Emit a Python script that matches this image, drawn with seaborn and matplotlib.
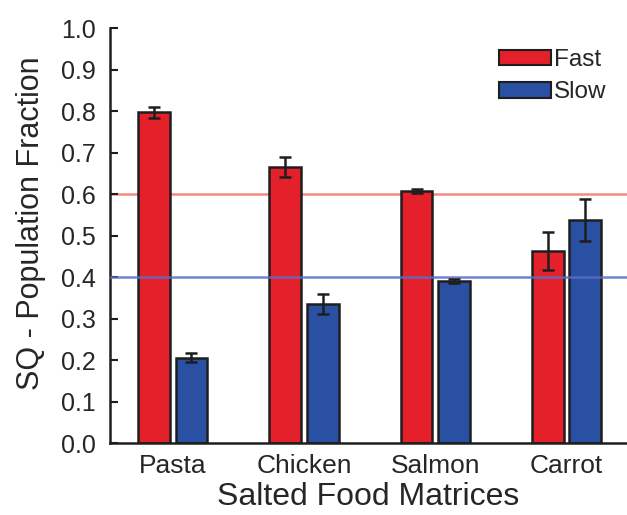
import matplotlib
matplotlib.use("Agg")
import matplotlib.pyplot as plt
import seaborn as sns
import pandas as pd
import numpy as np
from matplotlib.patches import Patch

# ---- data ----
categories = ["Pasta", "Chicken", "Salmon", "Carrot"]
series = ["Fast", "Slow"]
fast_values = [0.797, 0.665, 0.608, 0.463]
fast_errors = [0.013, 0.024, 0.005, 0.046]
slow_values = [0.205, 0.335, 0.390, 0.537]
slow_errors = [0.011, 0.023, 0.004, 0.051]
reference_fast = 0.6
reference_slow = 0.4
y_ticks = [0.0, 0.1, 0.2, 0.3, 0.4, 0.5, 0.6, 0.7, 0.8, 0.9, 1.0]

df = pd.DataFrame({
    "Food": categories * 2,
    "Rate": ["Fast"] * 4 + ["Slow"] * 4,
    "Fraction": fast_values + slow_values,
    "Err": fast_errors + slow_errors,
})

sns.set_style("white")
plt.rcParams["font.family"] = ["Liberation Sans", "DejaVu Sans"]

red = "#E4202A"
blue = "#2A50A3"
edge = "#1E1E1E"
text_c = "#262626"

fig = plt.figure(figsize=(6.27, 5.15), dpi=100)
ax = fig.add_axes([0.1754, 0.1398, 0.8246, 0.8058])

ax.axhline(reference_fast, color="#F08C84", lw=1.8, zorder=0)

sns.barplot(data=df, x="Food", y="Fraction", hue="Rate", order=categories,
            hue_order=series, palette=[red, blue], edgecolor=edge,
            linewidth=1.8, width=0.57, gap=0.15, errorbar=None,
            legend=False, saturation=1, ax=ax, zorder=2)

ax.axhline(reference_slow, color="#5A6CC4", lw=1.8, zorder=3, alpha=0.85)

for cont, lvl in zip(ax.containers, series):
    sub = df[df["Rate"] == lvl].set_index("Food").loc[categories]
    xs = [p.get_x() + p.get_width() / 2 for p in cont.patches]
    ax.errorbar(xs, sub["Fraction"].values, yerr=sub["Err"].values, fmt="none",
                ecolor=edge, elinewidth=1.8, capsize=4.5, capthick=1.8, zorder=4)

ax.set_xlim(-0.478, 3.461)
ax.set_ylim(0, 1.0)
ax.set_yticks(y_ticks)
ax.set_yticklabels([f"{t:.1f}" for t in y_ticks])

for s in ["top", "right"]:
    ax.spines[s].set_visible(False)
for s in ["left", "bottom"]:
    ax.spines[s].set_color(edge)
    ax.spines[s].set_linewidth(1.8)

ax.tick_params(axis="y", direction="in", length=6, width=1.5, color=edge,
               labelsize=18, labelcolor=text_c, pad=10, left=True)
ax.tick_params(axis="x", length=0, labelsize=19, labelcolor=text_c, pad=8)

ax.set_xlabel("Salted Food Matrices", fontsize=23, color=text_c, labelpad=3)
ax.set_ylabel("SQ - Population Fraction", fontsize=22, color=text_c, labelpad=11)
ax.yaxis.label.set_y(0.53)

handles = [Patch(facecolor=red, edgecolor=edge, linewidth=1.5),
           Patch(facecolor=blue, edgecolor=edge, linewidth=1.5)]
ax.legend(handles, series, loc="upper right", bbox_to_anchor=(0.993, 0.99),
          frameon=False, fontsize=17.5, handlelength=2.15, handleheight=0.6,
          handletextpad=0.1, labelspacing=0.42, borderaxespad=0.3,
          labelcolor=text_c)

fig.savefig("out.png", dpi=100)
